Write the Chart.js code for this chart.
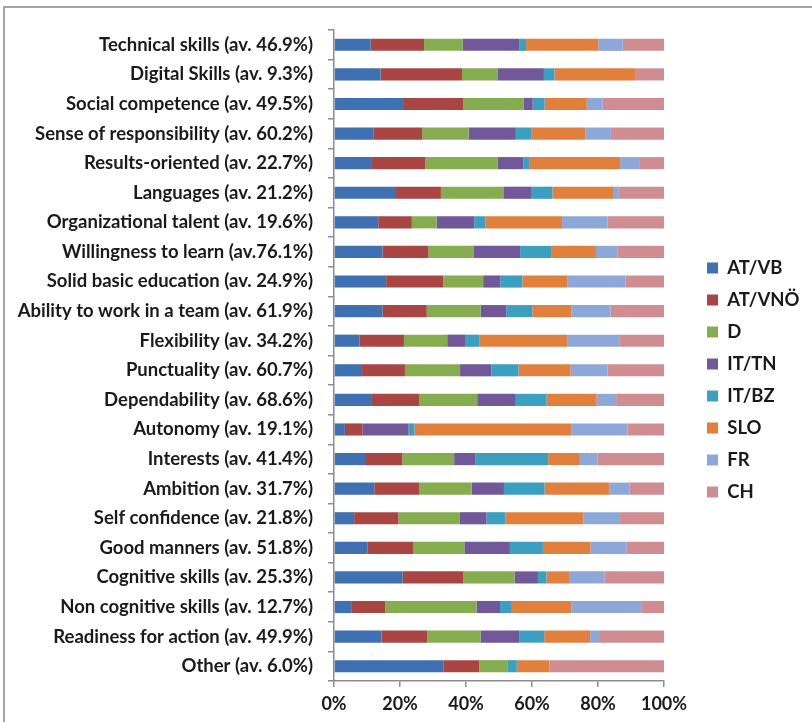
<!DOCTYPE html>
<html>
<head>
<meta charset="utf-8">
<script src="https://cdn.jsdelivr.net/npm/chart.js@4.4.1/dist/chart.umd.min.js"></script>
<style>
  html, body { margin: 0; padding: 0; background: #ffffff; overflow: hidden; }
  #frame { position: absolute; left: 3px; top: 6px; width: 900px; height: 900px;
           border-top: 2px solid #a4a4a4; border-left: 2px solid #a4a4a4; box-sizing: border-box; }
  #wrap { position: absolute; left: 0; top: 0; width: 812px; height: 722px; }
</style>
</head>
<body>
<div id="frame"></div>
<div id="wrap"><canvas id="c" width="812" height="722"></canvas></div>
<script>
const categories = [
  "Technical skills (av. 46.9%)",
  "Digital Skills (av. 9.3%)",
  "Social competence (av. 49.5%)",
  "Sense of responsibility (av. 60.2%)",
  "Results-oriented (av. 22.7%)",
  "Languages (av. 21.2%)",
  "Organizational talent (av. 19.6%)",
  "Willingness to learn (av.76.1%)",
  "Solid basic education (av. 24.9%)",
  "Ability to work in a team (av. 61.9%)",
  "Flexibility (av. 34.2%)",
  "Punctuality (av. 60.7%)",
  "Dependability (av. 68.6%)",
  "Autonomy (av. 19.1%)",
  "Interests (av. 41.4%)",
  "Ambition (av. 31.7%)",
  "Self confidence (av. 21.8%)",
  "Good manners (av. 51.8%)",
  "Cognitive skills (av. 25.3%)",
  "Non cognitive skills (av. 12.7%)",
  "Readiness for action (av. 49.9%)",
  "Other (av. 6.0%)"
];

const seriesNames = ["AT/VB", "AT/VNÖ", "D", "IT/TN", "IT/BZ", "SLO", "FR", "CH"];

const atvb  = [11.1,14.1,21.2,11.9,11.5,18.5,13.4,14.7,15.8,14.7,7.7,8.5,11.5,3.3,9.4,12.2,6.1,10.1,20.8,5.2,14.4,33.1];
const atvno = [16.2,24.7,18.0,14.8,16.1,13.9,10.2,13.9,17.3,13.4,13.5,13.0,14.4,5.3,11.3,13.7,13.4,14.0,18.3,10.3,13.9,10.9];
const d     = [11.7,10.7,18.2,14.1,22.0,18.9,7.5,13.8,12.1,16.3,13.1,16.7,17.5,0,15.7,15.8,18.5,15.4,15.6,27.7,16.1,8.5];
const ittn  = [17.1,14.1,2.8,14.3,7.8,8.4,11.4,14.0,5.2,7.8,5.4,9.5,11.7,14.0,6.4,9.8,8.2,13.8,7.1,7.1,11.7,0];
const itbz  = [2.1,3.2,3.6,4.8,1.7,6.5,3.4,9.6,6.7,7.9,4.3,8.2,9.3,1.8,22.1,12.3,5.7,10.0,2.6,3.6,7.6,2.9];
const slo   = [21.9,24.4,12.8,16.2,27.6,18.6,23.2,13.4,13.7,11.8,26.8,15.8,15.2,47.6,9.6,19.6,23.7,14.4,6.8,18.0,13.9,9.9];
const fr    = [7.4,0,4.8,7.8,6.0,1.5,13.8,6.5,17.5,11.9,15.8,11.2,5.9,17.0,5.4,6.1,11.1,11.0,10.8,21.4,3.0,0];
const ch    = [12.5,8.8,18.6,16.1,7.3,13.7,17.1,14.1,11.7,16.2,13.4,17.1,14.5,11.0,20.1,10.5,13.3,11.3,18.0,6.7,19.4,34.7];

const xTickLabels = ["0%", "20%", "40%", "60%", "80%", "100%"];

const seriesValues = [atvb, atvno, d, ittn, itbz, slo, fr, ch];
const seriesColors = ["#3E70B2", "#A94643", "#86AC50", "#715898", "#3A9FC0", "#E0803C", "#8CA7D8", "#CF8D92"];

// 100% stacked: express each row as share of its total
const rowTotals = categories.map((_, i) => seriesValues.reduce((s, arr) => s + arr[i], 0));

const datasets = seriesNames.map((name, k) => ({
  label: name,
  data: seriesValues[k].map((v, i) => v / rowTotals[i] * 100),
  backgroundColor: seriesColors[k],
  borderWidth: 0,
  categoryPercentage: 1.0,
  barPercentage: 0.41
}));

const FONT = "Lato, 'Open Sans', sans-serif";
const TXT = "#1a1a1a";
const AXIS = "#8c8c8c";
const LEG_PAD = 13.5;

// place the legend block a bit further right of the plot, as in the original
const legendShift = {
  id: "legendShift",
  afterLayout(chart) {
    const lg = chart.legend;
    if (!lg) return;
    const dx = 707 - LEG_PAD - lg.left;
    lg.left += dx;
    lg.right += dx;
  }
};

new Chart(document.getElementById("c"), {
  type: "bar",
  data: { labels: categories, datasets },
  plugins: [legendShift],
  options: {
    indexAxis: "y",
    responsive: false,
    animation: false,
    devicePixelRatio: 1,
    layout: { padding: { left: 0, top: 30, right: 32, bottom: 0 } },
    plugins: {
      tooltip: { enabled: false },
      legend: {
        position: "right",
        align: "center",
        title: { display: true, text: "", font: { size: 5, lineHeight: 1 }, padding: { top: 0, bottom: 3 } },
        labels: {
          boxWidth: 11,
          boxHeight: 11,
          padding: LEG_PAD,
          color: TXT,
          font: { family: FONT, size: 18.5, weight: "bold" }
        }
      }
    },
    scales: {
      x: {
        stacked: true,
        min: 0,
        max: 100,
        ticks: {
          stepSize: 20,
          padding: 6,
          color: TXT,
          font: { family: FONT, size: 18, weight: "bold" },
          callback: (v) => xTickLabels[Math.round(v / 20)]
        },
        grid: { drawOnChartArea: false, drawTicks: true, tickLength: 6, color: AXIS, lineWidth: 1.5 },
        border: { display: true, color: AXIS, width: 1.5 },
        afterFit: (s) => { s.height = 41; }
      },
      y: {
        stacked: true,
        ticks: {
          padding: 15,
          color: TXT,
          font: { family: FONT, size: 18.5, weight: "bold" }
        },
        grid: { drawOnChartArea: false, drawTicks: true, tickLength: 6, color: AXIS, lineWidth: 1.5, offset: true },
        border: { display: true, color: AXIS, width: 1.5 },
        afterFit: (s) => { s.width = 334; }
      }
    }
  }
});
</script>
</body>
</html>
